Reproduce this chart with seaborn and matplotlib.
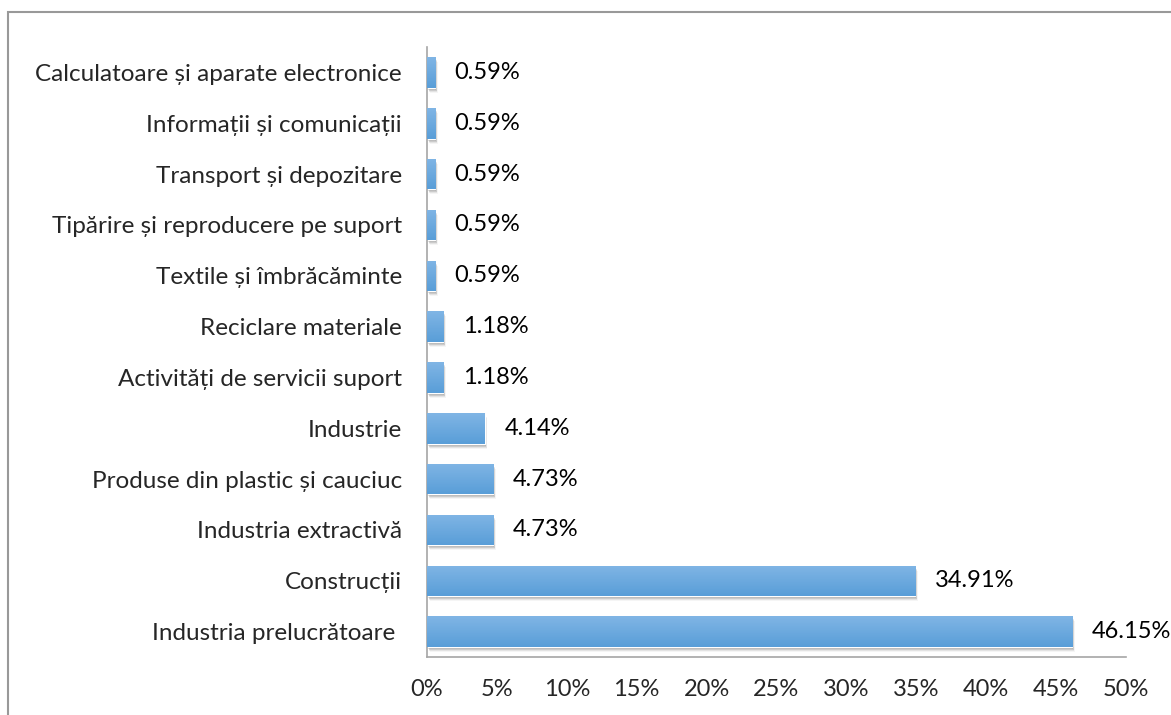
import matplotlib
matplotlib.use("Agg")
import matplotlib.pyplot as plt
import matplotlib.transforms as mtransforms
from matplotlib.patches import Rectangle
import numpy as np
import pandas as pd
import seaborn as sns

categories = [
    "Calculatoare și aparate electronice",
    "Informații și comunicații",
    "Transport și depozitare",
    "Tipărire și reproducere pe suport",
    "Textile și îmbrăcăminte",
    "Reciclare materiale",
    "Activități de servicii suport",
    "Industrie",
    "Produse din plastic și cauciuc",
    "Industria extractivă",
    "Construcții",
    "Industria prelucrătoare ",
]
values = [0.59, 0.59, 0.59, 0.59, 0.59, 1.18, 1.18, 4.14, 4.73, 4.73, 34.91, 46.15]
tick_values = [0, 5, 10, 15, 20, 25, 30, 35, 40, 45, 50]

df = pd.DataFrame({"category": categories, "value": values})

sns.set_theme(style="white")
plt.rcParams["font.family"] = ["Lato", "DejaVu Sans"]

fig = plt.figure(figsize=(11.71, 7.15), dpi=100)
ax = fig.add_axes([427 / 1171, 1 - 657 / 715, 699 / 1171, 610 / 715])

sns.barplot(data=df, x="value", y="category", order=categories, orient="h",
            color="#5b9fd9", width=0.6, ax=ax, saturation=1)

# gradient fill + soft shadow like the original office chart
grad = np.linspace(0, 1, 64).reshape(-1, 1)
cmap = matplotlib.colors.LinearSegmentedColormap.from_list("bar", ["#80b5e5", "#599ed8"])
for p in ax.patches:
    x0, y0, w, h = p.get_x(), p.get_y(), p.get_width(), p.get_height()
    for i, a in enumerate([0.14, 0.10, 0.07, 0.04]):
        off = mtransforms.offset_copy(ax.transData, fig=fig, x=1 + 0.5 * i, y=-2 - i, units="dots")
        ax.add_patch(Rectangle((x0, y0), w, h, facecolor="black", alpha=a,
                               edgecolor="none", transform=off, zorder=1))
    im = ax.imshow(grad, cmap=cmap, aspect="auto", extent=(x0, x0 + w, y0 + h, y0),
                   zorder=3)
    im.set_clip_path(p)
    p.set_zorder(2)

for i, v in enumerate(values):
    ax.annotate(f"{v:.2f}%", xy=(v, i), xytext=(14, 0), textcoords="offset points",
                va="center", ha="left", fontsize=17, color="black")

ax.set_xlim(0, 50)
ax.set_ylim(len(categories) - 0.5, -0.5)
ax.set_xticks(tick_values)
ax.set_xticklabels([f"{t}%" for t in tick_values], fontsize=17)
ax.tick_params(axis="x", pad=16, length=0)
ax.tick_params(axis="y", pad=18, length=0, labelsize=17.5)
ax.set_xlabel("")
ax.set_ylabel("")
for s in ["top", "right"]:
    ax.spines[s].set_visible(False)
for s in ["left", "bottom"]:
    ax.spines[s].set_color("#a6a6a6")
    ax.spines[s].set_linewidth(1.2)

# outer chart border
fig.add_artist(Rectangle((8 / 1171, -0.1), 1.2, 1.1 - 12 / 715, transform=fig.transFigure,
                         facecolor="none", edgecolor="#999999", linewidth=1.5))

fig.savefig("out.png", dpi=100)
